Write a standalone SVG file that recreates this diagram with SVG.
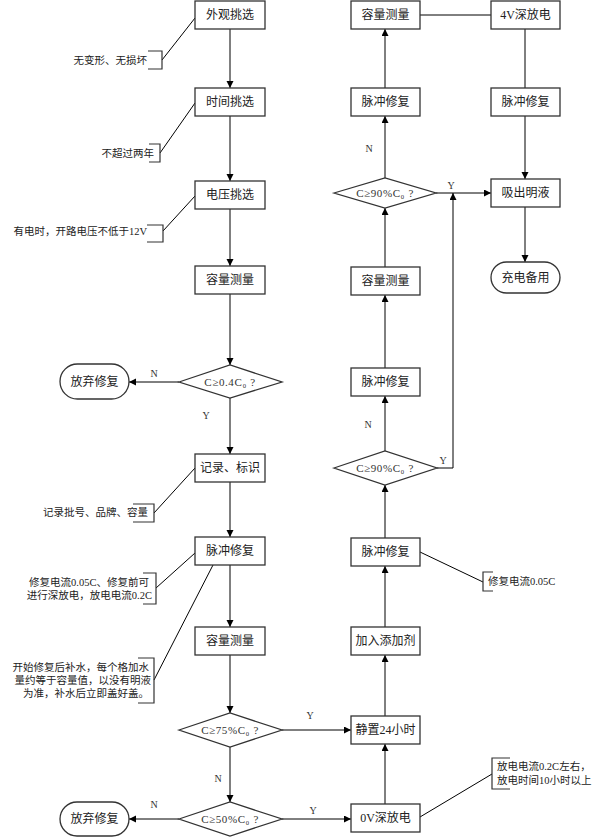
<svg xmlns="http://www.w3.org/2000/svg" width="604" height="838" viewBox="0 0 604 838">
<style>
.box{fill:#fff;stroke:#333;stroke-width:1.3}
.ln{fill:none;stroke:#000;stroke-width:1}
.arr{fill:none;stroke:#000;stroke-width:1;marker-end:url(#ah)}
.t{font-family:"Liberation Serif","Noto Sans CJK SC",serif;font-size:12px;fill:#222;text-anchor:middle}
.d{font-family:"Liberation Serif","Noto Sans CJK SC",serif;font-size:11px;letter-spacing:0.6px;fill:#333;text-anchor:middle}
.lb{font-family:"Liberation Serif","Noto Sans CJK SC",serif;font-size:10px;fill:#333;text-anchor:middle}
.a{font-family:"Liberation Serif","Noto Sans CJK SC",serif;font-size:10.5px;fill:#222;text-anchor:end}
.as{font-family:"Liberation Serif","Noto Sans CJK SC",serif;font-size:10.5px;fill:#222;text-anchor:start}
.br{fill:none;stroke:#333;stroke-width:1.2}
</style>
<defs>
<marker id="ah" markerUnits="userSpaceOnUse" markerWidth="8" markerHeight="8" refX="7" refY="3.5" orient="auto">
<path d="M0,0 L7,3.5 L0,7 z" fill="#000"/>
</marker>
</defs>
<rect width="604" height="838" fill="#fff"/>

<g id="connectors">
<line class="arr" x1="230" y1="29" x2="230" y2="88"/>
<line class="arr" x1="230" y1="116" x2="230" y2="181"/>
<line class="arr" x1="230" y1="209" x2="230" y2="266"/>
<line class="arr" x1="230" y1="294" x2="230" y2="365"/>
<line class="arr" x1="179" y1="382" x2="129" y2="382"/>
<line class="arr" x1="230" y1="398" x2="230" y2="454"/>
<line class="arr" x1="230" y1="482" x2="230" y2="537"/>
<line class="arr" x1="230" y1="565" x2="230" y2="627"/>
<line class="arr" x1="230" y1="655" x2="230" y2="713"/>
<line class="arr" x1="230" y1="747" x2="230" y2="802"/>
<line class="arr" x1="179" y1="819" x2="129" y2="819"/>
<line class="arr" x1="282" y1="730" x2="351" y2="730"/>
<line class="arr" x1="282" y1="819" x2="351" y2="819"/>
<line class="arr" x1="385" y1="804" x2="385" y2="744"/>
<line class="arr" x1="385" y1="716" x2="385" y2="655"/>
<line class="arr" x1="385" y1="627" x2="385" y2="566"/>
<line class="arr" x1="385" y1="538" x2="385" y2="485"/>
<line class="arr" x1="385" y1="451" x2="385" y2="396"/>
<line class="arr" x1="385" y1="368" x2="385" y2="295"/>
<line class="arr" x1="385" y1="267" x2="385" y2="208"/>
<line class="arr" x1="385" y1="178" x2="385" y2="116"/>
<line class="arr" x1="385" y1="88" x2="385" y2="29"/>
<line class="ln" x1="420" y1="15" x2="491" y2="15"/>
<line class="ln" x1="525" y1="29" x2="525" y2="88"/>
<line class="arr" x1="525" y1="116" x2="525" y2="179"/>
<line class="arr" x1="525" y1="207" x2="525" y2="262"/>
<line class="arr" x1="436" y1="193" x2="491" y2="193"/>
<polyline class="arr" points="437,468 453,468 453,193"/>
<line class="ln" x1="162" y1="60" x2="195" y2="18"/>
<line class="ln" x1="160" y1="153" x2="195" y2="103"/>
<line class="ln" x1="163" y1="231" x2="195" y2="196"/>
<line class="ln" x1="154" y1="513" x2="195" y2="468"/>
<line class="ln" x1="156" y1="588" x2="195" y2="553"/>
<line class="ln" x1="154" y1="680" x2="213" y2="565"/>
<line class="ln" x1="420" y1="552" x2="483" y2="582"/>
<line class="ln" x1="420" y1="817" x2="492" y2="774"/>
<text class="lb" x="154" y="377">N</text>
<text class="lb" x="206" y="419">Y</text>
<text class="lb" x="218" y="782">N</text>
<text class="lb" x="154" y="808">N</text>
<text class="lb" x="310" y="719">Y</text>
<text class="lb" x="313" y="814">Y</text>
<text class="lb" x="369" y="152">N</text>
<text class="lb" x="451" y="189">Y</text>
<text class="lb" x="368" y="428">N</text>
<text class="lb" x="443" y="464">Y</text>
</g>

<g id="n-waiguan"><rect class="box" x="195" y="1" width="70" height="28"/><text class="t" x="230" y="19">外观挑选</text></g>
<g id="n-shijian"><rect class="box" x="195" y="88" width="70" height="28"/><text class="t" x="230" y="106">时间挑选</text></g>
<g id="n-dianya"><rect class="box" x="195" y="181" width="70" height="28"/><text class="t" x="230" y="199">电压挑选</text></g>
<g id="n-rongliang1"><rect class="box" x="195" y="266" width="70" height="28"/><text class="t" x="230" y="284">容量测量</text></g>
<g id="n-d04"><polygon class="box" points="179,382 230,365 282,382 230,398"/><text class="d" x="230" y="386">C≥0.4C₀ ?</text></g>
<g id="n-fangqi1"><rect class="box" x="60" y="364" width="69" height="35" rx="17.5"/><text class="t" x="94.5" y="386">放弃修复</text></g>
<g id="n-jilu"><rect class="box" x="195" y="454" width="70" height="28"/><text class="t" x="230" y="472">记录、标识</text></g>
<g id="n-maichong1"><rect class="box" x="195" y="537" width="70" height="28"/><text class="t" x="230" y="555">脉冲修复</text></g>
<g id="n-rongliang2"><rect class="box" x="195" y="627" width="70" height="28"/><text class="t" x="230" y="645">容量测量</text></g>
<g id="n-d75"><polygon class="box" points="179,730 230,713 282,730 230,747"/><text class="d" x="230" y="734">C≥75%C₀ ?</text></g>
<g id="n-d50"><polygon class="box" points="179,819 230,802 282,819 230,836"/><text class="d" x="230" y="823">C≥50%C₀ ?</text></g>
<g id="n-fangqi2"><rect class="box" x="60" y="802" width="69" height="34" rx="17"/><text class="t" x="94.5" y="823">放弃修复</text></g>

<g id="n-0v"><rect class="box" x="351" y="804" width="69" height="28"/><text class="t" x="385.5" y="822">0V深放电</text></g>
<g id="n-jingzhi"><rect class="box" x="351" y="716" width="69" height="28"/><text class="t" x="385.5" y="734">静置24小时</text></g>
<g id="n-tianjia"><rect class="box" x="351" y="627" width="69" height="28"/><text class="t" x="385.5" y="645">加入添加剂</text></g>
<g id="n-maichong2"><rect class="box" x="351" y="538" width="69" height="28"/><text class="t" x="385.5" y="556">脉冲修复</text></g>
<g id="n-d90b"><polygon class="box" points="334,468 385,451 437,468 385,485"/><text class="d" x="385" y="472">C≥90%C₀ ?</text></g>
<g id="n-maichong3"><rect class="box" x="351" y="368" width="69" height="28"/><text class="t" x="385.5" y="386">脉冲修复</text></g>
<g id="n-rongliang3"><rect class="box" x="351" y="267" width="69" height="28"/><text class="t" x="385.5" y="285">容量测量</text></g>
<g id="n-d90a"><polygon class="box" points="334,193 385,178 436,193 385,208"/><text class="d" x="385" y="197">C≥90%C₀ ?</text></g>
<g id="n-maichong4"><rect class="box" x="351" y="88" width="69" height="28"/><text class="t" x="385.5" y="106">脉冲修复</text></g>
<g id="n-rongliang4"><rect class="box" x="351" y="1" width="69" height="28"/><text class="t" x="385.5" y="19">容量测量</text></g>
<g id="n-4v"><rect class="box" x="491" y="1" width="69" height="28"/><text class="t" x="525.5" y="19">4V深放电</text></g>
<g id="n-maichong5"><rect class="box" x="491" y="88" width="69" height="28"/><text class="t" x="525.5" y="106">脉冲修复</text></g>
<g id="n-xichu"><rect class="box" x="491" y="179" width="69" height="28"/><text class="t" x="525.5" y="197">吸出明液</text></g>
<g id="n-chongdian"><rect class="box" x="491" y="262" width="69" height="31" rx="15.5"/><text class="t" x="525.5" y="282">充电备用</text></g>

<g id="ann1"><path class="br" d="M148,51 H162 V69 H148"/><text class="a" x="147" y="64">无变形、无损坏</text></g>
<g id="ann2"><path class="br" d="M149,144 H160 V162 H149"/><text class="a" x="154" y="157">不超过两年</text></g>
<g id="ann3"><path class="br" d="M147,225 H163 V242 H147"/><text class="a" x="147" y="235">有电时，开路电压不低于12V</text></g>
<g id="ann4"><path class="br" d="M133,504 H154 V522 H133"/><text class="a" x="148" y="516">记录批号、品牌、容量</text></g>
<g id="ann5"><path class="br" d="M143,573 H156 V604 H143"/><text class="a" x="149" y="586">修复电流0.05C、修复前可</text><text class="a" x="152" y="599">进行深放电，放电电流0.2C</text></g>
<g id="ann6"><path class="br" d="M138,658 H154 V703 H138"/><text class="a" x="149" y="671">开始修复后补水，每个格加水</text><text class="a" x="151" y="684">量约等于容量值，以没有明液</text><text class="a" x="149" y="697">为准，补水后立即盖好盖。</text></g>
<g id="ann7"><path class="br" d="M493,572 H483 V591 H493"/><text class="as" x="488" y="585">修复电流0.05C</text></g>
<g id="ann8"><path class="br" d="M510,758 H492 V789 H510"/><text class="as" x="497" y="770">放电电流0.2C左右，</text><text class="as" x="497" y="784">放电时间10小时以上</text></g>
</svg>
